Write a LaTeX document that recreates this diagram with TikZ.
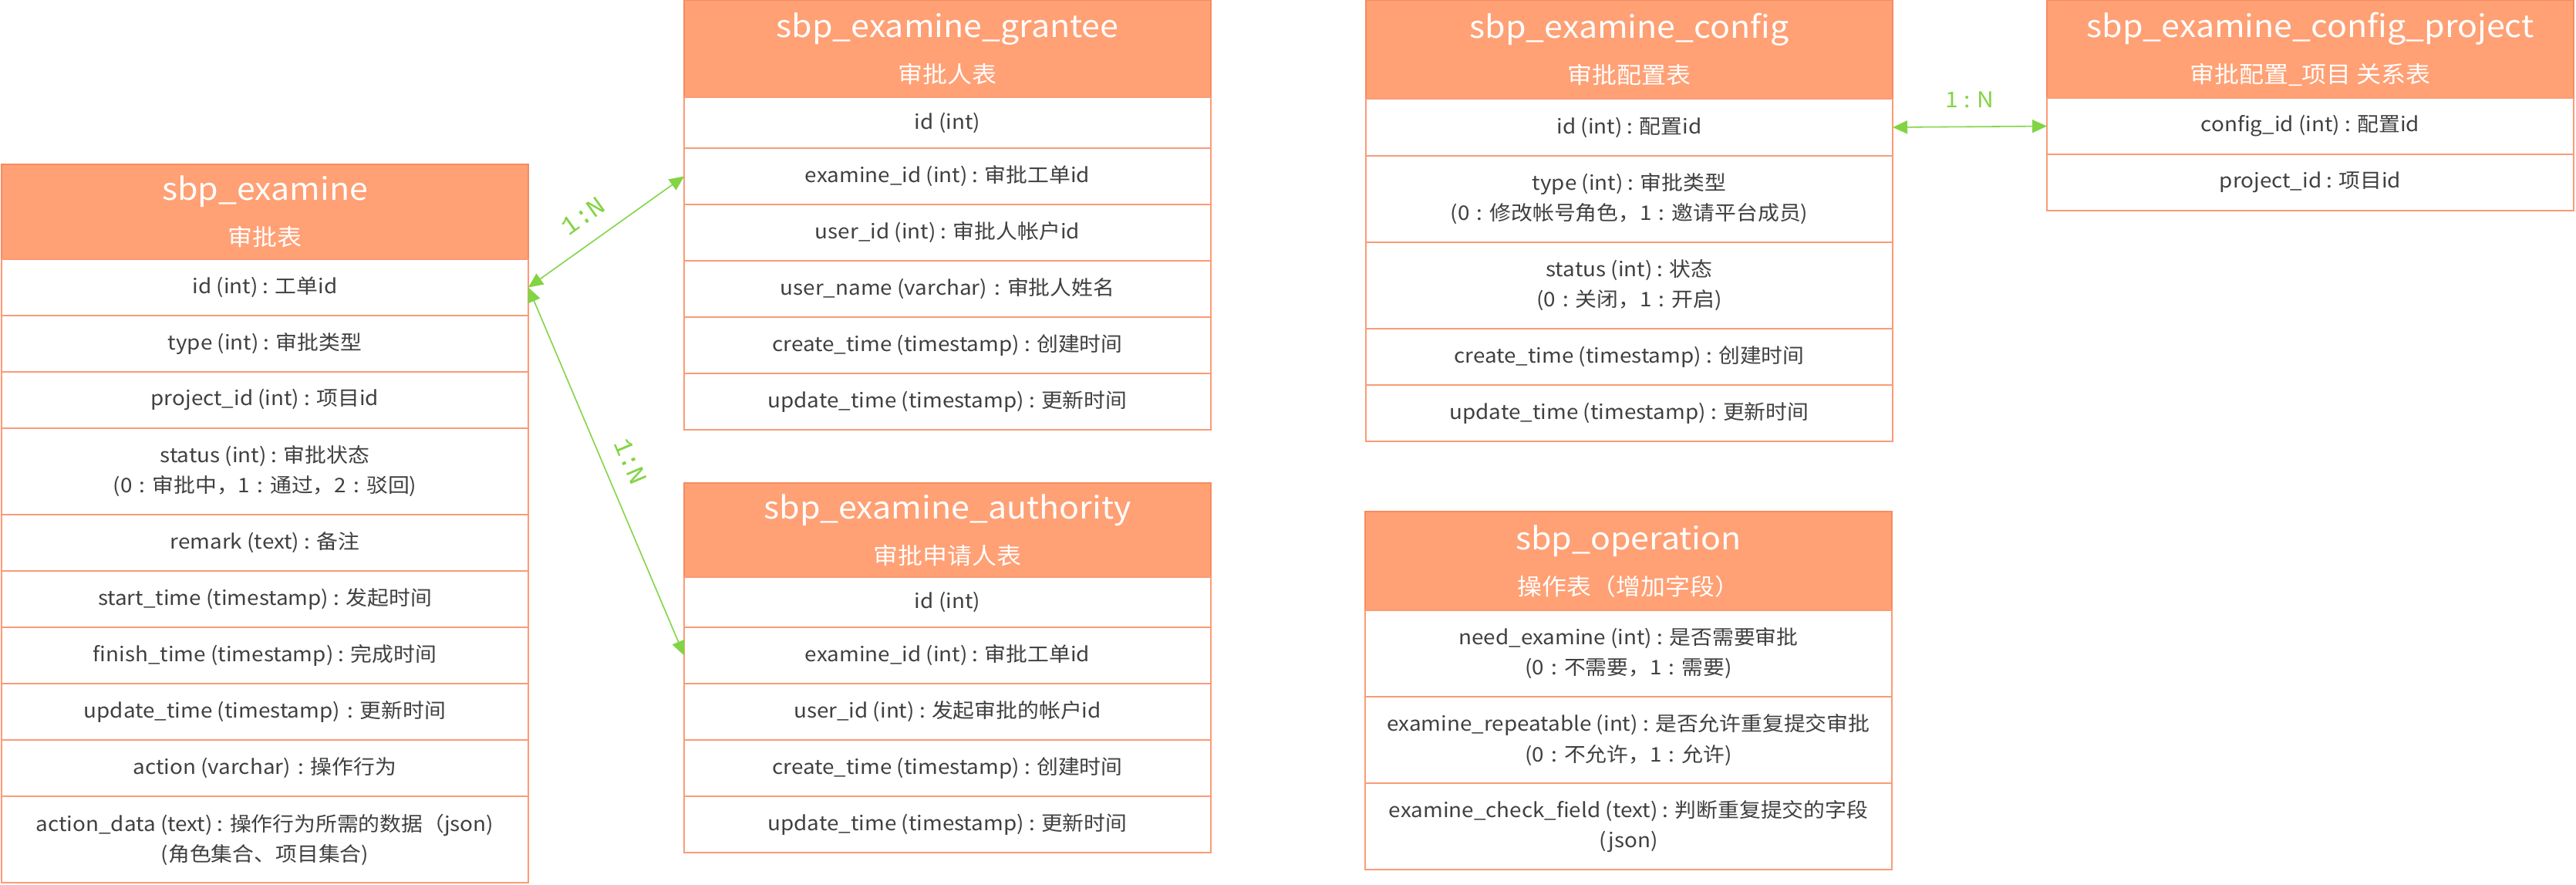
\documentclass[tikz,border=0pt]{standalone}
\usepackage{fontspec}
\setmainfont[FakeStretch=1.07]{Noto Sans CJK SC}
\newfontfamily\relmono{Liberation Mono}
\usepackage{tikz}
\usetikzlibrary{arrows.meta, positioning}

\definecolor{headfill}{RGB}{255,160,117}
\definecolor{headline}{RGB}{246,140,98}
\definecolor{rowline}{RGB}{250,155,118}
\definecolor{fieldtext}{RGB}{64,64,64}
\definecolor{relgreen}{RGB}{130,212,68}

% centred colon, as the full-width one is printed
\newcommand{\fcolon}{\hbox to 1em{\hss:\hss}}

\tikzset{
  tablehead/.style={
    draw=headline, fill=headfill, text=white, align=center,
    anchor=north west, minimum width=6.83cm, minimum height=1.23cm,
    inner sep=0pt, outer sep=0pt, line width=0.5pt,
    font=\fontsize{8.5}{16.8}\selectfont
  },
  fieldrow/.style={
    draw=rowline, fill=white, text=fieldtext, align=center,
    minimum width=6.83cm, minimum height=0.73cm,
    inner sep=0pt, outer sep=0pt, line width=0.5pt,
    font=\fontsize{7.4}{11.1}\selectfont
  },
  fieldrowtall/.style={fieldrow, minimum height=1.12cm},
  relarrow/.style={
    {Triangle[length=1.9mm,width=1.7mm]}-{Triangle[length=1.9mm,width=1.7mm]},
    draw=relgreen, line width=0.45pt
  },
  rellabel/.style={text=relgreen, font=\relmono\fontsize{9.6}{10}\selectfont},
}

\begin{document}
\begin{tikzpicture}
  \useasboundingbox (0,0) rectangle (33.4,-11.46);

  % sbp_examine
  \node[tablehead] (ex) at (0.02,-2.13)
    {{\fontsize{11.4}{14}\selectfont sbp\_examine}\\审批表};
  \node[fieldrow, below=0pt of ex] (ex1) {id (int) : 工单id};
  \node[fieldrow, below=0pt of ex1] (ex2) {type (int) : 审批类型};
  \node[fieldrow, below=0pt of ex2] (ex3) {project\_id (int) : 项目id};
  \node[fieldrowtall, below=0pt of ex3] (ex4)
    {status (int) : 审批状态\\(0\fcolon 审批中，1\fcolon 通过，2\fcolon 驳回)};
  \node[fieldrow, below=0pt of ex4] (ex5) {remark (text) : 备注};
  \node[fieldrow, below=0pt of ex5] (ex6) {start\_time (timestamp) : 发起时间};
  \node[fieldrow, below=0pt of ex6] (ex7) {finish\_time (timestamp) : 完成时间};
  \node[fieldrow, below=0pt of ex7] (ex8) {update\_time (timestamp)\fcolon 更新时间};
  \node[fieldrow, below=0pt of ex8] (ex9) {action (varchar)\fcolon 操作行为};
  \node[fieldrowtall, below=0pt of ex9] (ex10)
    {action\_data (text) : 操作行为所需的数据（json)\\(角色集合、项目集合)};

  % sbp_examine_grantee
  \node[tablehead, minimum height=1.26cm] (gr) at (8.87,0)
    {{\fontsize{11.4}{14}\selectfont sbp\_examine\_grantee}\\审批人表};
  \node[fieldrow, minimum height=0.66cm, below=0pt of gr] (gr1) {id (int)};
  \node[fieldrow, below=0pt of gr1] (gr2) {examine\_id (int) : 审批工单id};
  \node[fieldrow, below=0pt of gr2] (gr3) {user\_id (int) : 审批人帐户id};
  \node[fieldrow, below=0pt of gr3] (gr4) {user\_name (varchar)\fcolon 审批人姓名};
  \node[fieldrow, below=0pt of gr4] (gr5) {create\_time (timestamp) : 创建时间};
  \node[fieldrow, below=0pt of gr5] (gr6) {update\_time (timestamp) : 更新时间};

  % sbp_examine_authority
  \node[tablehead, minimum height=1.22cm] (au) at (8.87,-6.26)
    {{\fontsize{11.4}{14}\selectfont sbp\_examine\_authority}\\审批申请人表};
  \node[fieldrow, minimum height=0.65cm, below=0pt of au] (au1) {id (int)};
  \node[fieldrow, below=0pt of au1] (au2) {examine\_id (int) : 审批工单id};
  \node[fieldrow, below=0pt of au2] (au3) {user\_id (int) : 发起审批的帐户id};
  \node[fieldrow, below=0pt of au3] (au4) {create\_time (timestamp) : 创建时间};
  \node[fieldrow, below=0pt of au4] (au5) {update\_time (timestamp) : 更新时间};

  % sbp_examine_config
  \node[tablehead, minimum height=1.28cm] (cf) at (17.71,0)
    {{\fontsize{11.4}{14}\selectfont sbp\_examine\_config}\\审批配置表};
  \node[fieldrow, minimum height=0.74cm, below=0pt of cf] (cf1) {id (int) : 配置id};
  \node[fieldrowtall, below=0pt of cf1] (cf2)
    {type (int) : 审批类型\\(0\fcolon 修改帐号角色，1\fcolon 邀请平台成员)};
  \node[fieldrowtall, below=0pt of cf2] (cf3)
    {status (int) : 状态\\(0\fcolon 关闭，1\fcolon 开启)};
  \node[fieldrow, below=0pt of cf3] (cf4) {create\_time (timestamp) : 创建时间};
  \node[fieldrow, below=0pt of cf4] (cf5) {update\_time (timestamp) : 更新时间};

  % sbp_examine_config_project
  \node[tablehead, minimum height=1.27cm] (cp) at (26.54,0)
    {{\fontsize{11.4}{14}\selectfont sbp\_examine\_config\_project}\\审批配置\_项目 关系表};
  \node[fieldrow, below=0pt of cp] (cp1) {config\_id (int) : 配置id};
  \node[fieldrow, below=0pt of cp1] (cp2) {project\_id : 项目id};

  % sbp_operation
  \node[tablehead, minimum height=1.28cm] (op) at (17.70,-6.63)
    {{\fontsize{11.4}{14}\selectfont sbp\_operation}\\操作表（增加字段）};
  \node[fieldrowtall, below=0pt of op] (op1)
    {need\_examine (int) : 是否需要审批\\(0\fcolon 不需要，1\fcolon 需要)};
  \node[fieldrowtall, below=0pt of op1] (op2)
    {examine\_repeatable (int) : 是否允许重复提交审批\\(0\fcolon 不允许，1\fcolon 允许)};
  \node[fieldrowtall, below=0pt of op2] (op3)
    {examine\_check\_field (text) : 判断重复提交的字段\\(json)};

  % relations
  \draw[relarrow] (ex1.east) -- node[rellabel, sloped, above=3pt, pos=0.45] {1:N} (gr2.west);
  \draw[relarrow] (ex1.east) -- node[rellabel, sloped, above=3pt, pos=0.5] {1:N} (au2.west);
  \draw[relarrow] (cf1.east) -- node[rellabel, above=0.12cm, font=\fontsize{8}{9}\selectfont] {1 : N} (cp1.west);
\end{tikzpicture}
\end{document}
